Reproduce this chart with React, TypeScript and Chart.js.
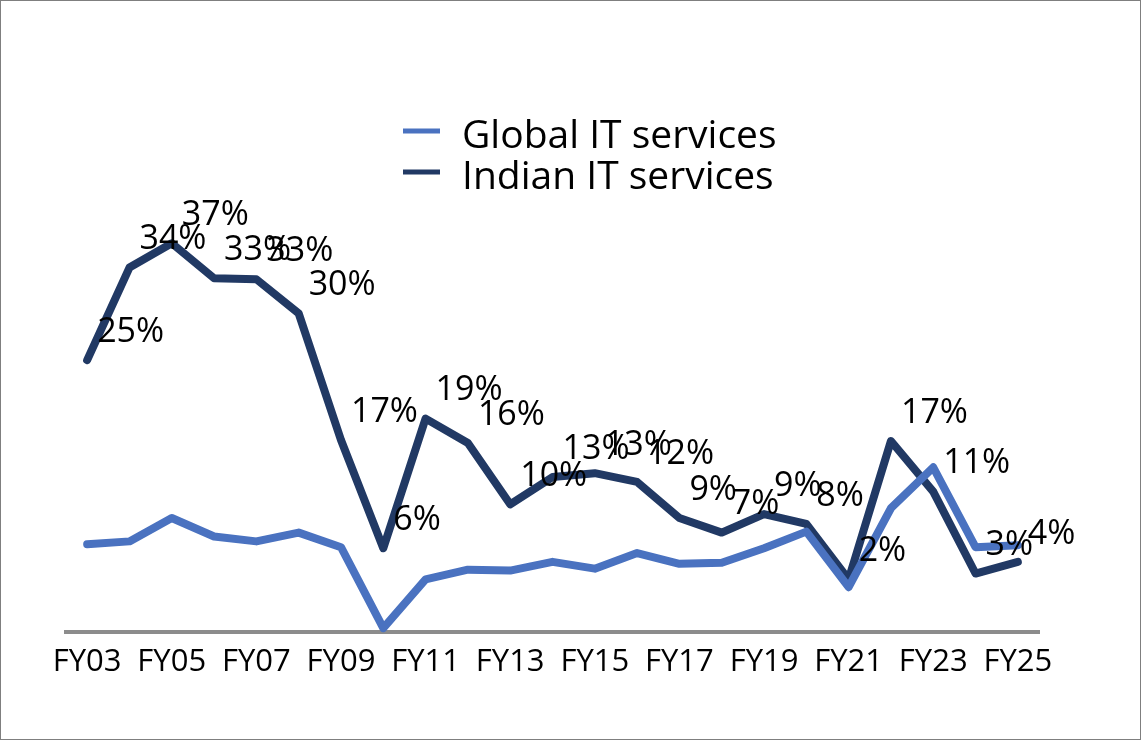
import Chart from 'chart.js/auto';
import { useEffect, useRef } from 'react';

const categories = ['FY03', 'FY04', 'FY05', 'FY06', 'FY07', 'FY08', 'FY09', 'FY10', 'FY11', 'FY12', 'FY13', 'FY14', 'FY15', 'FY16', 'FY17', 'FY18', 'FY19', 'FY20', 'FY21', 'FY22', 'FY23', 'FY24', 'FY25'];
const globalGrowth = [6.0, 6.3, 8.7, 6.8, 6.3, 7.2, 5.7, -2.6, 2.4, 3.4, 3.3, 4.2, 3.5, 5.1, 4.0, 4.1, 5.6, 7.3, 1.6, 9.7, 13.9, 5.7, 5.9];
const indianGrowth = [24.9, 34.4, 36.9, 33.3, 33.2, 29.7, 16.7, 5.6, 18.9, 16.4, 10.1, 12.9, 13.3, 12.4, 8.7, 7.2, 9.1, 8.1, 2.4, 16.6, 11.4, 3.0, 4.2];
const seriesNames = ['Global IT services', 'Indian IT services'];
const seriesColors = ['#4A72C0', '#213964'];

const FONT = '"Open Sans", "Noto Sans", sans-serif';

// percent labels next to the Indian points
const pointLabels = {
	id: 'pointLabels',
	afterDatasetsDraw(chart: any) {
		const ctx = chart.ctx;
		const meta = chart.getDatasetMeta(1);
		const values = chart.data.datasets[1].data as number[];
		ctx.save();
		ctx.font = `34px ${FONT}`;
		ctx.fillStyle = '#000';
		ctx.textAlign = 'left';
		ctx.textBaseline = 'middle';
		meta.data.forEach((pt: any, i: number) => {
			ctx.fillText(Math.round(values[i]) + '%', pt.x + 10, pt.y - 28);
		});
		ctx.restore();
	},
};

// stacked legend inside the plot
const stackedLegend = {
	id: 'stackedLegend',
	afterDraw(chart: any) {
		const ctx = chart.ctx;
		ctx.save();
		ctx.font = `39px ${FONT}`;
		ctx.textAlign = 'left';
		ctx.textBaseline = 'alphabetic';
		chart.data.datasets.forEach((ds: any, i: number) => {
			const y = 130 + i * 41;
			ctx.strokeStyle = ds.borderColor;
			ctx.lineWidth = 5;
			ctx.beginPath();
			ctx.moveTo(402, y);
			ctx.lineTo(439, y);
			ctx.stroke();
			ctx.fillStyle = '#000';
			ctx.fillText(ds.label, 461, y + 17);
		});
		ctx.restore();
	},
};

export default function App() {
	const canvasRef = useRef<HTMLCanvasElement | null>(null);
	useEffect(() => {
		if (!canvasRef.current) return;
		const chart = new Chart(canvasRef.current, {
			type: 'line',
			data: {
				labels: categories,
				datasets: [
					{
						label: seriesNames[0],
						data: globalGrowth,
						borderColor: seriesColors[0],
						backgroundColor: seriesColors[0],
						borderWidth: 8,
						pointRadius: 0,
						borderCapStyle: 'round',
						borderJoinStyle: 'round',
						tension: 0,
						clip: false,
					},
					{
						label: seriesNames[1],
						data: indianGrowth,
						borderColor: seriesColors[1],
						backgroundColor: seriesColors[1],
						borderWidth: 8,
						pointRadius: 0,
						borderCapStyle: 'round',
						borderJoinStyle: 'round',
						tension: 0,
						clip: false,
					},
				],
			},
			options: {
				animation: false,
				responsive: true,
				maintainAspectRatio: false,
				layout: { padding: { left: 65, right: 101, top: 212, bottom: 47 } },
				plugins: {
					legend: { display: false },
					tooltip: { enabled: false },
				},
				scales: {
					x: {
						offset: true,
						grid: { display: false, drawTicks: false },
						border: { display: true, color: '#8c8c8c', width: 4 },
						ticks: {
							autoSkip: false,
							maxRotation: 0,
							padding: 12,
							color: '#000',
							font: { family: FONT, size: 31 },
							callback: (_v: any, i: number) => (i % 2 === 0 ? categories[i] : ''),
						},
						afterFit: (scale: any) => {
							scale.height = 60;
						},
					},
					y: {
						display: false,
						min: -3,
						max: 40,
					},
				},
			},
			plugins: [pointLabels, stackedLegend],
		});
		return () => chart.destroy();
	}, []);

	return (
		<div
			style={{
				position: 'absolute',
				left: 0,
				top: 0,
				width: 1141,
				height: 740,
				border: '1px solid #7f7f7f',
				boxSizing: 'border-box',
				background: '#fff',
			}}
		>
			<div style={{ position: 'relative', width: '100%', height: '100%' }}>
				<canvas ref={canvasRef}></canvas>
			</div>
		</div>
	);
}
